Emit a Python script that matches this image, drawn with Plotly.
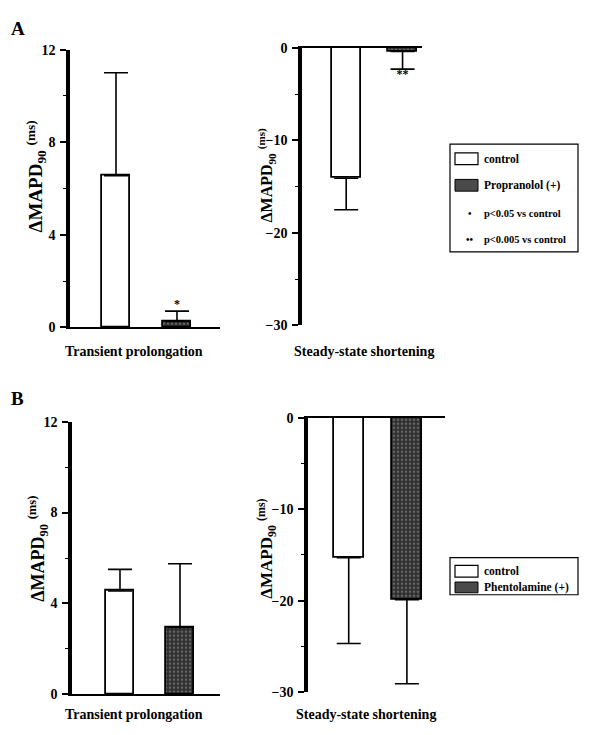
import plotly.graph_objects as go

# Group labels on the category axis of every panel
groups = ["control", "drug"]

# Panel A: control vs propranolol
trans_a = [6.55, 0.25]
trans_a_err = [4.45, 0.45]
steady_a = [-14.1, -0.4]
steady_a_err = [3.4, 1.9]
sig_trans_a = ["", "*"]
sig_steady_a = ["", "**"]

# Panel B: control vs phentolamine
trans_b = [4.55, 2.95]
trans_b_err = [0.95, 2.8]
steady_b = [-15.3, -19.9]
steady_b_err = [9.4, 9.2]

W, H = 606, 735
FONT = "Liberation Serif"
DARK_PATTERN = dict(shape=".", bgcolor="#2e2e2e", fgcolor="#9a9a9a",
                    size=4, solidity=0.35)


def px_x(v):
    return v / W


def px_y(v):
    return 1 - v / H


def bfont(size):
    return dict(family=FONT, size=size, color="black", weight="bold")


def bar_pair(values, errs, xa, ya, width, negative):
    traces = []
    fills = [dict(color="white"), dict(color="#3a3a3a", pattern=DARK_PATTERN)]
    for i in range(2):
        err = dict(type="data", symmetric=False, color="black",
                   thickness=1.6, width=12)
        if negative:
            err.update(array=[0], arrayminus=[errs[i]])
        else:
            err.update(array=[errs[i]], arrayminus=[0])
        traces.append(go.Bar(
            x=[groups[i]], y=[values[i]], width=width,
            marker=dict(line=dict(color="black", width=1.8), **fills[i]),
            error_y=err, xaxis=xa, yaxis=ya, showlegend=False,
        ))
    return traces


def sig_marks(values, errs, marks, xa, ya, negative):
    keep = [i for i, m in enumerate(marks) if m]
    tips = [values[i] - errs[i] if negative else values[i] + errs[i]
            for i in keep]
    return go.Scatter(
        x=[groups[i] for i in keep], y=tips, text=[marks[i] for i in keep],
        mode="text", textposition="bottom center" if negative else "top center",
        textfont=bfont(12), xaxis=xa, yaxis=ya, showlegend=False)


fig = go.Figure()
for t in bar_pair(trans_a, trans_a_err, "x", "y", 0.46, False):
    fig.add_trace(t)
for t in bar_pair(steady_a, steady_a_err, "x2", "y2", 0.51, True):
    fig.add_trace(t)
for t in bar_pair(trans_b, trans_b_err, "x3", "y3", 0.47, False):
    fig.add_trace(t)
for t in bar_pair(steady_b, steady_b_err, "x4", "y4", 0.52, True):
    fig.add_trace(t)

fig.add_trace(sig_marks(trans_a, trans_a_err, sig_trans_a, "x", "y", False))
fig.add_trace(sig_marks(steady_a, steady_a_err, sig_steady_a, "x2", "y2", True))


def xax(dom, rng, side):
    return dict(domain=dom, range=rng, type="category", categoryorder="array",
                categoryarray=groups, side=side, showline=True,
                linecolor="black", linewidth=2, showticklabels=False,
                ticks="", showgrid=False, zeroline=False, fixedrange=True)


def yax(dom, rng, major, minor, anchor):
    return dict(domain=dom, range=rng, anchor=anchor, tickvals=major,
                ticks="outside", ticklen=6, tickwidth=1.5, tickcolor="black",
                minor=dict(tickvals=minor, ticks="outside", ticklen=3,
                           tickwidth=1.2, tickcolor="black"),
                showline=True, linecolor="black", linewidth=3.5,
                showgrid=False, zeroline=False, tickfont=bfont(14),
                ticklabelstandoff=2, fixedrange=True)


fig.update_layout(
    width=W, height=H, margin=dict(l=0, r=0, t=0, b=0),
    paper_bgcolor="white", plot_bgcolor="rgba(0,0,0,0)",
    bargap=0, showlegend=False,
    xaxis=xax([px_x(70), px_x(220)], [-0.754, 1.705], "bottom") | dict(anchor="y"),
    yaxis=yax([px_y(327), px_y(43.5)], [0, 12], [0, 4, 8, 12], [2, 6, 10], "x"),
    xaxis2=xax([px_x(302), px_x(422)], [-0.784, 1.345], "top") | dict(anchor="y2"),
    yaxis2=yax([px_y(325), px_y(41.7)], [-30, 0], [-30, -20, -10, 0],
               [-25, -15, -5], "x2"),
    xaxis3=xax([px_x(72), px_x(220)], [-0.8, 1.667], "bottom") | dict(anchor="y3"),
    yaxis3=yax([px_y(701.7), px_y(423.3)], [0, 12], [0, 4, 8, 12], [2, 6, 10], "x3"),
    xaxis4=xax([px_x(308), px_x(445)], [-0.70, 1.655], "top") | dict(anchor="y4"),
    yaxis4=yax([px_y(699.3), px_y(419.3)], [-30, 0], [-30, -20, -10, 0],
               [-25, -15, -5], "x4"),
)

ann = []


def text(x, y, s, size, angle=0, xanchor="center"):
    ann.append(dict(x=px_x(x), y=px_y(y), xref="paper", yref="paper",
                    text=s, showarrow=False, textangle=angle,
                    xanchor=xanchor, yanchor="middle", font=bfont(size)))


ytitle = "ΔMAPD<sub>90</sub> <sup>(ms)</sup>"
text(18, 22, "A", 19)
text(17, 400, "B", 19)
text(36, 173, ytitle, 19, -90)
text(267, 172, ytitle, 16, -90)
text(38, 553, ytitle, 18, -90)
text(267, 553, ytitle, 17, -90)
text(134, 352, "Transient prolongation", 14)
text(364, 352, "Steady-state shortening", 14)
text(134, 722, "Transient prolongation", 14)
text(366, 722, "Steady-state shortening", 14)

# legend boxes with their swatches
shapes = [
    dict(type="rect", xref="paper", yref="paper", x0=px_x(450), x1=px_x(578),
         y0=px_y(250), y1=px_y(140), line=dict(color="black", width=1.2)),
    dict(type="rect", xref="paper", yref="paper", x0=px_x(455), x1=px_x(478),
         y0=px_y(161), y1=px_y(149), fillcolor="white",
         line=dict(color="black", width=1.2)),
    dict(type="rect", xref="paper", yref="paper", x0=px_x(455), x1=px_x(478),
         y0=px_y(188), y1=px_y(176), fillcolor="#4a4a4a",
         line=dict(color="black", width=1)),
    dict(type="rect", xref="paper", yref="paper", x0=px_x(450), x1=px_x(578),
         y0=px_y(600), y1=px_y(562), line=dict(color="black", width=1.2)),
    dict(type="rect", xref="paper", yref="paper", x0=px_x(455), x1=px_x(478),
         y0=px_y(582), y1=px_y(570), fillcolor="white",
         line=dict(color="black", width=1.2)),
    dict(type="rect", xref="paper", yref="paper", x0=px_x(455), x1=px_x(478),
         y0=px_y(598), y1=px_y(587), fillcolor="#4a4a4a",
         line=dict(color="black", width=1)),
]
text(482, 155, "control", 11.5, xanchor="left")
text(482, 182, "Propranolol (+)", 11.5, xanchor="left")
text(470, 211, "•", 10)
text(482, 211, "p&lt;0.05 vs control", 10.5, xanchor="left")
text(470, 237, "••", 10)
text(482, 237, "p&lt;0.005 vs control", 10.5, xanchor="left")
text(482, 576, "control", 11.5, xanchor="left")
text(482, 593, "Phentolamine (+)", 11.5, xanchor="left")

fig.update_layout(annotations=ann, shapes=shapes)
fig.write_html("out.html")
